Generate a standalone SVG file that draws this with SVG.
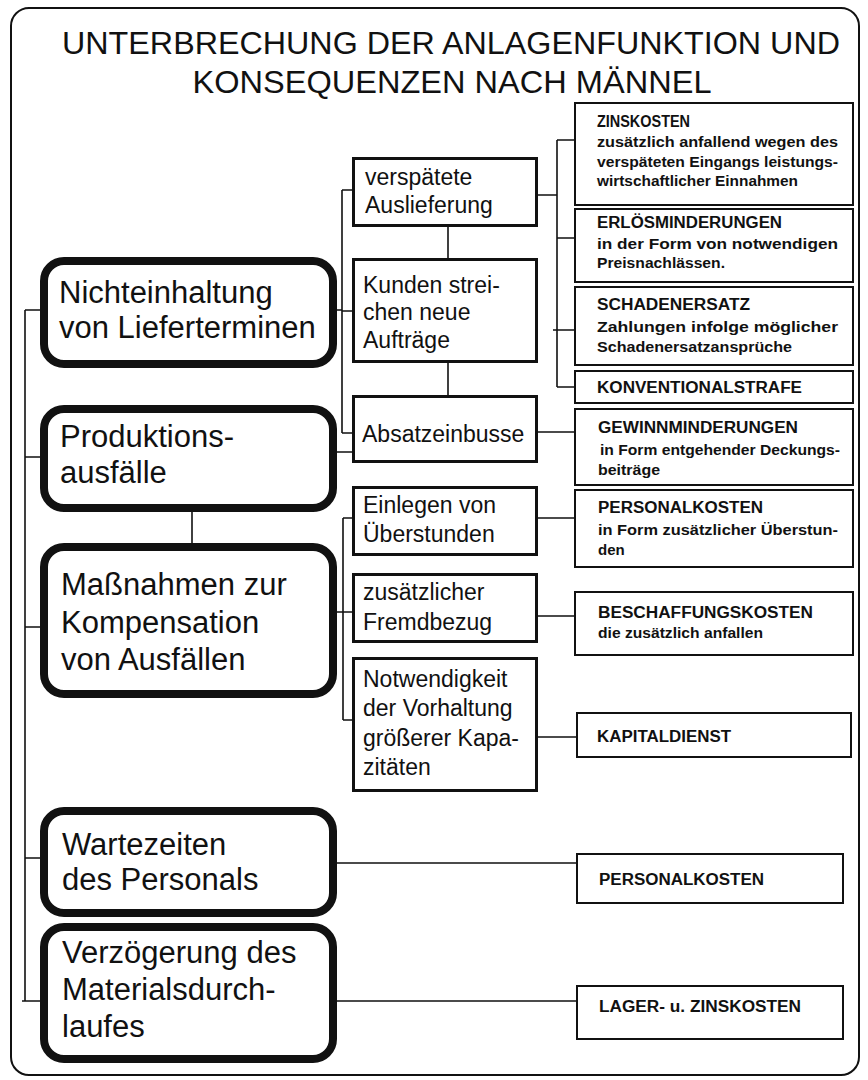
<svg xmlns="http://www.w3.org/2000/svg" width="868" height="1080" viewBox="0 0 868 1080">
<style>
.frame{fill:none;stroke:#111;stroke-width:2}
.lbox{fill:#fff;stroke:#111;stroke-width:8}
.mbox{fill:#fff;stroke:#111;stroke-width:3}
.rbox{fill:#fff;stroke:#111;stroke-width:2}
.conn{fill:none;stroke:#111;stroke-width:1.6}
.title{font-family:"Liberation Sans",Arial,sans-serif;font-size:32px;fill:#111}
.lt{font-family:"Liberation Sans",Arial,sans-serif;font-size:31px;fill:#111}
.mt{font-family:"Liberation Sans",Arial,sans-serif;font-size:23px;fill:#111}
.rh{font-family:"Liberation Sans",Arial,sans-serif;font-size:16px;font-weight:bold;fill:#111}
.rb{font-family:"Liberation Sans",Arial,sans-serif;font-size:15px;font-weight:bold;fill:#111}
</style>
<rect x="0" y="0" width="868" height="1080" fill="#fff"/>
<rect class="frame" x="11" y="8" width="848" height="1067" rx="18"/>
<g id="title">
<text class="title" x="451" y="54" text-anchor="middle" textLength="778" lengthAdjust="spacingAndGlyphs">UNTERBRECHUNG DER ANLAGENFUNKTION UND</text>
<text class="title" x="452" y="93" text-anchor="middle" textLength="519" lengthAdjust="spacingAndGlyphs">KONSEQUENZEN NACH MÄNNEL</text>
</g>
<g id="connectors">
<path class="conn" d="M25 310V1001M25 310H40M25 457H40M25 627H40M25 858H40M22 1001H40"/>
<path class="conn" d="M192 512V543"/>
<path class="conn" d="M337 310H342M342 190V433M342 190H353M342 311H353M342 433H353M337 452H353"/>
<path class="conn" d="M343 518V720M343 518H353M337 612H353M343 720H353"/>
<path class="conn" d="M448 227V258M448 363V395"/>
<path class="conn" d="M538 195H557M557 140V387M557 140H575M557 238H575M553 330H575M557 387H575"/>
<path class="conn" d="M538 432H575M538 518H575M538 616H575M538 737H577"/>
<path class="conn" d="M337 863H577M337 1001H577"/>
</g>
<g id="n-liefertermine">
<rect class="lbox" x="44" y="261" width="289" height="103" rx="20"/>
<text class="lt" x="59" y="303">Nichteinhaltung</text>
<text class="lt" x="59" y="338">von Lieferterminen</text>
</g>
<g id="n-produktion">
<rect class="lbox" x="44" y="409" width="289" height="99" rx="20"/>
<text class="lt" x="60" y="447">Produktions-</text>
<text class="lt" x="60" y="483">ausfälle</text>
</g>
<g id="n-massnahmen">
<rect class="lbox" x="44" y="547" width="289" height="147" rx="20"/>
<text class="lt" x="61" y="595">Maßnahmen zur</text>
<text class="lt" x="61" y="633">Kompensation</text>
<text class="lt" x="61" y="670">von Ausfällen</text>
</g>
<g id="n-wartezeiten">
<rect class="lbox" x="44" y="811" width="289" height="102" rx="20"/>
<text class="lt" x="62" y="855">Wartezeiten</text>
<text class="lt" x="62" y="890">des Personals</text>
</g>
<g id="n-verzoegerung">
<rect class="lbox" x="44" y="927" width="289" height="132" rx="20"/>
<text class="lt" x="62" y="963">Verzögerung des</text>
<text class="lt" x="62" y="1000">Materialsdurch-</text>
<text class="lt" x="62" y="1037">laufes</text>
</g>
<g id="m-auslieferung">
<rect class="mbox" x="353.5" y="158.5" width="183" height="67"/>
<text class="mt" x="365" y="185">verspätete</text>
<text class="mt" x="365" y="213">Auslieferung</text>
</g>
<g id="m-kunden">
<rect class="mbox" x="353.5" y="259.5" width="183" height="102"/>
<text class="mt" x="363" y="293">Kunden strei-</text>
<text class="mt" x="363" y="320">chen neue</text>
<text class="mt" x="363" y="348">Aufträge</text>
</g>
<g id="m-absatz">
<rect class="mbox" x="353.5" y="396.5" width="183" height="65"/>
<text class="mt" x="362" y="442">Absatzeinbusse</text>
</g>
<g id="m-ueberstunden">
<rect class="mbox" x="353.5" y="487.5" width="183" height="67"/>
<text class="mt" x="363" y="513">Einlegen von</text>
<text class="mt" x="363" y="542">Überstunden</text>
</g>
<g id="m-fremdbezug">
<rect class="mbox" x="353.5" y="574.5" width="183" height="67"/>
<text class="mt" x="363" y="600">zusätzlicher</text>
<text class="mt" x="363" y="630">Fremdbezug</text>
</g>
<g id="m-kapazitaeten">
<rect class="mbox" x="353.5" y="658.5" width="183" height="132"/>
<text class="mt" x="363" y="687">Notwendigkeit</text>
<text class="mt" x="363" y="716">der Vorhaltung</text>
<text class="mt" x="363" y="746">größerer Kapa-</text>
<text class="mt" x="363" y="775">zitäten</text>
</g>
<g id="r-zinskosten">
<rect class="rbox" x="575" y="103" width="278" height="102"/>
<text class="rh" x="597" y="127" textLength="93" lengthAdjust="spacingAndGlyphs">ZINSKOSTEN</text>
<text class="rb" x="597" y="147" textLength="241" lengthAdjust="spacingAndGlyphs">zusätzlich anfallend wegen des</text>
<text class="rb" x="597" y="167" textLength="241" lengthAdjust="spacingAndGlyphs">verspäteten Eingangs leistungs-</text>
<text class="rb" x="597" y="186" textLength="201" lengthAdjust="spacingAndGlyphs">wirtschaftlicher Einnahmen</text>
</g>
<g id="r-erloes">
<rect class="rbox" x="575" y="209" width="278" height="73"/>
<text class="rh" x="597" y="228" textLength="185" lengthAdjust="spacingAndGlyphs">ERLÖSMINDERUNGEN</text>
<text class="rb" x="597" y="249" textLength="241" lengthAdjust="spacingAndGlyphs">in der Form von notwendigen</text>
<text class="rb" x="597" y="268" textLength="128" lengthAdjust="spacingAndGlyphs">Preisnachlässen.</text>
</g>
<g id="r-schadenersatz">
<rect class="rbox" x="575" y="287" width="278" height="78"/>
<text class="rh" x="597" y="310" textLength="153" lengthAdjust="spacingAndGlyphs">SCHADENERSATZ</text>
<text class="rb" x="597" y="332" textLength="241" lengthAdjust="spacingAndGlyphs">Zahlungen infolge möglicher</text>
<text class="rb" x="597" y="352" textLength="195" lengthAdjust="spacingAndGlyphs">Schadenersatzansprüche</text>
</g>
<g id="r-konventionalstrafe">
<rect class="rbox" x="575" y="371" width="278" height="32"/>
<text class="rh" x="597" y="393" textLength="205" lengthAdjust="spacingAndGlyphs">KONVENTIONALSTRAFE</text>
</g>
<g id="r-gewinn">
<rect class="rbox" x="575" y="409" width="278" height="76"/>
<text class="rh" x="598" y="433" textLength="200" lengthAdjust="spacingAndGlyphs">GEWINNMINDERUNGEN</text>
<text class="rb" x="600" y="455" textLength="240" lengthAdjust="spacingAndGlyphs">in Form entgehender Deckungs-</text>
<text class="rb" x="598" y="475" textLength="62" lengthAdjust="spacingAndGlyphs">beiträge</text>
</g>
<g id="r-personal1">
<rect class="rbox" x="575" y="490" width="278" height="77"/>
<text class="rh" x="598" y="513" textLength="165" lengthAdjust="spacingAndGlyphs">PERSONALKOSTEN</text>
<text class="rb" x="598" y="535" textLength="240" lengthAdjust="spacingAndGlyphs">in Form zusätzlicher Überstun-</text>
<text class="rb" x="598" y="555">den</text>
</g>
<g id="r-beschaffung">
<rect class="rbox" x="575" y="592" width="278" height="63"/>
<text class="rh" x="598" y="618" textLength="215" lengthAdjust="spacingAndGlyphs">BESCHAFFUNGSKOSTEN</text>
<text class="rb" x="598" y="638" textLength="165" lengthAdjust="spacingAndGlyphs">die zusätzlich anfallen</text>
</g>
<g id="r-kapitaldienst">
<rect class="rbox" x="577" y="713" width="274" height="44"/>
<text class="rh" x="597" y="742" textLength="134" lengthAdjust="spacingAndGlyphs">KAPITALDIENST</text>
</g>
<g id="r-personal2">
<rect class="rbox" x="577" y="854" width="266" height="49"/>
<text class="rh" x="599" y="885" textLength="165" lengthAdjust="spacingAndGlyphs">PERSONALKOSTEN</text>
</g>
<g id="r-lager">
<rect class="rbox" x="577" y="986" width="266" height="53"/>
<text class="rh" x="599" y="1012" textLength="202" lengthAdjust="spacingAndGlyphs">LAGER- u. ZINSKOSTEN</text>
</g>
</svg>
